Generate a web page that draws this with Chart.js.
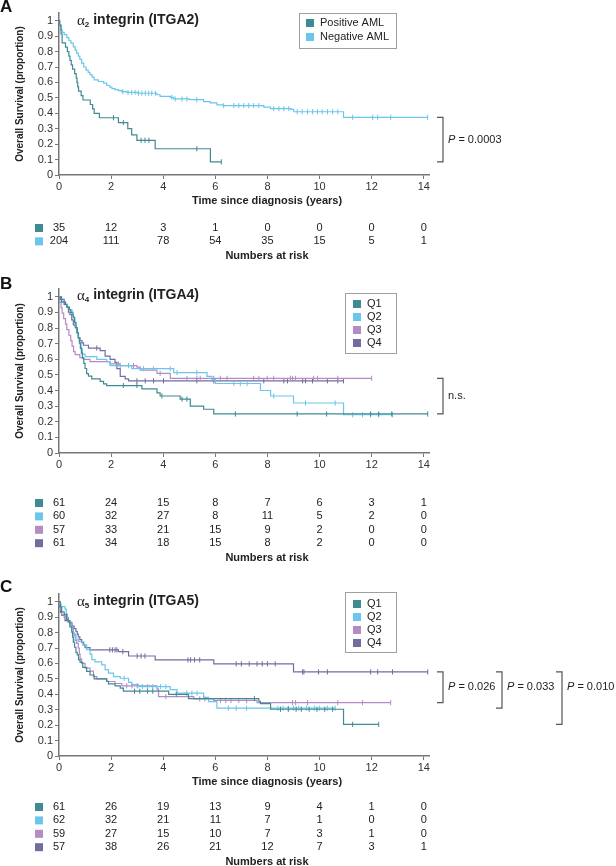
<!DOCTYPE html>
<html>
<head>
<meta charset="utf-8">
<script src="https://cdn.jsdelivr.net/npm/chart.js@4.4.0/dist/chart.umd.min.js"></script>
<style>
  body { margin: 0; background: #fff; width: 616px; height: 866px; position: relative; overflow: hidden; }
  .panel { position: absolute; left: 0; width: 616px; }
</style>
</head>
<body>
<div class="panel" style="top:0;height:266px"><canvas id="chartA"></canvas></div>
<div class="panel" style="top:266px;height:309px"><canvas id="chartB"></canvas></div>
<div class="panel" style="top:575px;height:291px"><canvas id="chartC"></canvas></div>
<script>
// ---- data ----
const riskTimes = [0, 2, 4, 6, 8, 10, 12, 14];
const quartiles = ['Q1', 'Q2', 'Q3', 'Q4'];

// A: alpha2 integrin (ITGA2)  -- [time, survival] after each event
const aNames = ['Positive AML', 'Negative AML'];
const aPosSteps = [[0.03,0.971],[0.08,0.914],[0.12,0.857],[0.25,0.829],[0.32,0.80],[0.38,0.771],[0.42,0.743],[0.47,0.714],[0.52,0.686],[0.60,0.657],[0.66,0.629],[0.69,0.60],[0.72,0.571],[0.75,0.543],[0.85,0.514],[0.92,0.486],[1.2,0.457],[1.29,0.429],[1.35,0.40],[1.55,0.371],[2.28,0.34],[2.64,0.30],[2.79,0.26],[2.99,0.225],[3.69,0.17],[5.81,0.085]];
const aPosCensor = [2.09, 2.47, 3.15, 3.3, 3.45, 5.29, 6.23];
const aNegSteps = [[0.02,0.97],[0.06,0.94],[0.12,0.925],[0.2,0.91],[0.3,0.89],[0.38,0.87],[0.46,0.855],[0.55,0.83],[0.62,0.81],[0.68,0.79],[0.74,0.77],[0.8,0.75],[0.87,0.725],[0.95,0.70],[1.04,0.68],[1.12,0.665],[1.19,0.65],[1.27,0.635],[1.35,0.617],[1.51,0.606],[1.71,0.595],[1.83,0.58],[1.95,0.57],[2.03,0.56],[2.15,0.553],[2.28,0.547],[2.41,0.54],[2.6,0.535],[3.0,0.53],[3.76,0.52],[3.88,0.51],[4.27,0.503],[4.4,0.493],[5.0,0.488],[5.55,0.475],[5.81,0.467],[6.06,0.455],[6.3,0.45],[7.86,0.44],[8.12,0.43],[8.9,0.425],[9.01,0.41],[10.92,0.374]];
const aNegCensor = [2.45,2.65,2.79,2.92,3.05,3.18,3.31,3.44,3.56,3.7,4.33,4.46,4.72,4.91,5.29,6.32,6.71,6.9,7.09,7.28,7.47,7.67,8.24,8.44,8.63,8.82,9.14,9.33,9.54,9.73,9.92,10.1,10.3,10.5,10.7,11.27,12.04,12.23,12.73,14.15];
const aPosRisk = [35, 12, 3, 1, 0, 0, 0, 0];
const aNegRisk = [204, 111, 78, 54, 35, 15, 5, 1];
const aPValue = '0.0003';

// B: alpha4 integrin (ITGA4)
const bQ1Steps = [[0.05,0.984],[0.1,0.967],[0.2,0.951],[0.3,0.934],[0.4,0.918],[0.45,0.90],[0.5,0.885],[0.55,0.869],[0.6,0.836],[0.65,0.803],[0.7,0.770],[0.74,0.738],[0.78,0.705],[0.82,0.672],[0.86,0.64],[0.9,0.607],[0.95,0.574],[1.0,0.541],[1.06,0.508],[1.13,0.492],[1.26,0.475],[1.58,0.459],[1.71,0.443],[1.83,0.432],[3.18,0.41],[3.76,0.385],[3.88,0.365],[4.65,0.345],[5.04,0.30],[5.55,0.28],[5.94,0.25]];
const bQ1Censor = [2.47, 2.99, 3.95, 4.72, 4.91, 6.77, 9.14, 10.27, 11.96, 12.27, 12.77, 14.15];
const bQ2Steps = [[0.05,0.983],[0.1,0.967],[0.2,0.95],[0.3,0.933],[0.4,0.917],[0.5,0.9],[0.55,0.867],[0.6,0.833],[0.65,0.8],[0.7,0.767],[0.75,0.733],[0.8,0.7],[0.85,0.667],[0.9,0.633],[1.0,0.617],[1.45,0.60],[1.83,0.585],[1.96,0.56],[2.79,0.54],[4.4,0.515],[5.68,0.49],[5.87,0.47],[6.0,0.445],[7.73,0.40],[8.12,0.365],[9.0,0.32],[10.92,0.245]];
const bQ2Censor = [2.35, 2.67, 3.24, 3.62, 4.27, 4.53, 5.29, 6.71, 6.96, 7.22, 8.24, 9.46, 10.6, 11.27, 11.65, 11.96, 12.27, 12.8];
const bQ3Steps = [[0.03,0.965],[0.08,0.93],[0.12,0.895],[0.18,0.86],[0.25,0.825],[0.3,0.79],[0.38,0.754],[0.45,0.72],[0.5,0.684],[0.56,0.649],[0.62,0.63],[0.8,0.61],[0.94,0.60],[1.19,0.585],[1.96,0.57],[2.35,0.56],[2.99,0.55],[3.12,0.53],[3.76,0.51],[4.27,0.478]];
const bQ3Censor = [2.28, 2.67, 2.86, 3.88, 4.91, 5.29, 5.42, 5.94, 6.19, 6.45, 7.47, 7.67, 7.99, 8.24, 8.88, 8.96, 9.08, 9.77, 9.92, 10.7, 12.0];
const bQ4Steps = [[0.1,0.984],[0.2,0.967],[0.25,0.951],[0.3,0.934],[0.36,0.902],[0.42,0.885],[0.49,0.852],[0.55,0.82],[0.62,0.803],[0.68,0.77],[0.74,0.738],[0.81,0.72],[0.88,0.705],[0.94,0.69],[1.13,0.672],[1.58,0.656],[1.77,0.62],[1.96,0.60],[2.15,0.58],[2.22,0.54],[2.35,0.49],[2.54,0.475],[2.67,0.462]];
const bQ4Censor = [1.45, 2.99, 3.31, 3.63, 4.01, 5.29, 5.94, 7.86, 8.63, 8.77, 9.35, 9.46, 9.73, 10.3, 10.7, 10.92];
const bQ1Risk = [61, 24, 15, 8, 7, 6, 3, 1];
const bQ2Risk = [60, 32, 27, 8, 11, 5, 2, 0];
const bQ3Risk = [57, 33, 21, 15, 9, 2, 0, 0];
const bQ4Risk = [61, 34, 18, 15, 8, 2, 0, 0];
const bLabel = 'n.s.';

// C: alpha5 integrin (ITGA5)
const cQ1Steps = [[0.05,0.967],[0.1,0.934],[0.2,0.918],[0.29,0.885],[0.35,0.869],[0.42,0.836],[0.49,0.803],[0.52,0.77],[0.55,0.738],[0.6,0.705],[0.65,0.672],[0.7,0.656],[0.75,0.623],[0.81,0.607],[0.91,0.574],[1.06,0.549],[1.19,0.525],[1.35,0.500],[1.83,0.484],[1.90,0.468],[2.15,0.455],[2.35,0.44],[2.47,0.42],[4.21,0.40],[4.97,0.372],[7.67,0.355],[7.73,0.34],[8.12,0.303],[10.92,0.205]];
const cQ1Censor = [2.9, 3.1, 3.4, 3.6, 4.5, 7.5, 8.5, 8.8, 9.1, 9.3, 9.6, 9.9, 10.2, 10.5, 11.27, 12.27];
const cQ2Steps = [[0.03,0.984],[0.08,0.968],[0.23,0.952],[0.28,0.92],[0.32,0.887],[0.36,0.871],[0.42,0.839],[0.49,0.806],[0.55,0.79],[0.65,0.758],[0.75,0.742],[0.91,0.72],[1.06,0.69],[1.19,0.66],[1.26,0.625],[1.38,0.61],[1.64,0.59],[1.77,0.56],[1.9,0.537],[2.09,0.515],[2.35,0.504],[2.67,0.477],[2.79,0.462],[3.05,0.45],[4.27,0.43],[4.53,0.407],[5.55,0.38],[5.74,0.353],[6.06,0.31]];
const cQ2Censor = [2.5, 3.2, 3.4, 3.6, 3.9, 4.1, 4.9, 5.1, 5.3, 6.5, 6.8, 7.2, 8.4, 8.6, 8.8, 9.0, 9.2, 9.5, 9.8, 10.0, 10.3, 10.6];
const cQ3Steps = [[0.05,0.949],[0.1,0.915],[0.2,0.898],[0.36,0.868],[0.49,0.83],[0.55,0.80],[0.58,0.78],[0.62,0.75],[0.68,0.73],[0.74,0.70],[0.78,0.66],[0.81,0.63],[0.87,0.60],[1.0,0.57],[1.19,0.55],[1.32,0.515],[1.45,0.50],[1.83,0.483],[2.15,0.47],[2.41,0.455],[3.76,0.433],[3.82,0.385],[5.17,0.37],[5.94,0.36],[7.6,0.346]];
const cQ3Censor = [2.6, 2.8, 3.0, 4.1, 5.4, 5.6, 6.2, 6.4, 6.6, 6.9, 7.2, 8.96, 9.08, 9.54, 10.7, 11.65, 12.73];
const cQ4Steps = [[0.03,0.965],[0.06,0.93],[0.1,0.912],[0.23,0.877],[0.42,0.86],[0.5,0.842],[0.58,0.825],[0.65,0.807],[0.7,0.79],[0.74,0.772],[0.8,0.754],[0.87,0.737],[0.95,0.72],[1.0,0.702],[1.19,0.688],[2.28,0.677],[2.67,0.648],[3.69,0.623],[5.94,0.597],[9.0,0.545]];
const cQ4Censor = [1.95, 2.05, 2.15, 2.22, 2.45, 3.0, 3.15, 3.3, 4.95, 5.05, 5.2, 5.4, 6.8, 7.0, 7.3, 7.6, 7.8, 8.0, 8.3, 9.35, 9.4, 9.96, 10.3, 11.96, 12.23, 12.8, 14.15];
const cQ1Risk = [61, 26, 19, 13, 9, 4, 1, 0];
const cQ2Risk = [62, 32, 21, 11, 7, 1, 0, 0];
const cQ3Risk = [59, 27, 15, 10, 7, 3, 1, 0];
const cQ4Risk = [57, 38, 26, 21, 12, 7, 3, 1];
const cPValues = ['0.026', '0.033', '0.010'];

// ---- styles ----
const FONT = "'Liberation Sans', Arial, Helvetica, sans-serif";
const TEAL = '#3f8a93', SKY = '#6cc5ea', PINK = '#b48bc4', PURPLE = '#726d9e';

function survAt(steps, t) {
  let s = 1;
  steps.forEach(([x, y]) => { if (x <= t) s = y; });
  return s;
}
function lastSurv(steps) { return steps[steps.length - 1][1]; }

function kmSets(steps, censor, color) {
  const end = censor[censor.length - 1];
  const line = [{x: 0, y: 1}].concat(steps.map(([x, y]) => ({x, y})), [{x: end, y: survAt(steps, end)}]);
  return [
    { data: line, borderColor: color, borderWidth: 1.2, pointRadius: 0, stepped: true, fill: false },
    { data: censor.map(t => ({x: t, y: survAt(steps, t)})), showLine: false,
      pointStyle: 'line', pointRotation: 90, pointRadius: 2.6,
      pointBorderColor: color, pointBorderWidth: 1, borderColor: color }
  ];
}

function makeOptions(padTop, padBottom) {
  return {
    responsive: true, maintainAspectRatio: false, animation: false,
    layout: { padding: { left: 0, right: 187, top: padTop, bottom: padBottom } },
    plugins: { legend: { display: false }, tooltip: { enabled: false } },
    scales: {
      x: {
        type: 'linear', min: 0, max: 14.2,
        afterFit: s => { s.height = 30; },
        ticks: { stepSize: 2, includeBounds: false, padding: 1, maxRotation: 0, color: '#333', font: { family: FONT, size: 11 } },
        grid: { drawOnChartArea: false, tickLength: 4, color: '#777' },
        border: { color: '#777', width: 1.5 }
      },
      y: {
        min: 0, max: 1.05,
        afterFit: s => { s.width = 59; },
        ticks: { stepSize: 0.1, includeBounds: false, padding: 2, color: '#333', font: { family: FONT, size: 11 },
                 callback: v => Math.round(v * 10) / 10 },
        grid: { drawOnChartArea: false, tickLength: 4, color: '#777' },
        border: { color: '#777', width: 1.5 },
        title: { display: true, text: 'Overall Survival (proportion)', color: '#222',
                 font: { family: FONT, size: 10, weight: 'bold' }, padding: { top: 14, bottom: 0 } }
      }
    }
  };
}

function drawPanel(chart, cfg) {
  const ctx = chart.ctx, area = chart.chartArea, xs = chart.scales.x, ys = chart.scales.y;
  ctx.save();
  ctx.textBaseline = 'middle';
  ctx.fillStyle = '#111';
  // panel letter
  ctx.textAlign = 'left';
  ctx.font = `bold 17px ${FONT}`;
  ctx.fillText(cfg.letter, 0, cfg.letterY);
  // title with greek alpha
  let x = 77;
  ctx.fillStyle = '#222';
  ctx.font = `15px 'Liberation Serif', 'DejaVu Serif', serif`;
  ctx.fillText('\u03b1', x, cfg.titleY + 1);
  x += ctx.measureText('\u03b1').width;
  ctx.font = `bold 8px ${FONT}`;
  ctx.fillText(cfg.sub, x, cfg.titleY + 5);
  x += ctx.measureText(cfg.sub).width;
  ctx.font = `bold 14px ${FONT}`;
  ctx.fillText(' integrin (' + cfg.gene + ')', x, cfg.titleY);

  // legend box
  const L = cfg.legend;
  ctx.strokeStyle = '#a0a0a0'; ctx.lineWidth = 1;
  ctx.strokeRect(L.x + 0.5, L.y + 0.5, L.w, L.h);
  ctx.font = `11px ${FONT}`;
  cfg.names.forEach((n, i) => {
    const y = L.rowY + i * L.rowH;
    ctx.fillStyle = cfg.colors[i];
    ctx.fillRect(L.sqX - 4, y - 4, 8, 8);
    ctx.fillStyle = '#222';
    ctx.fillText(n, L.textX, y);
  });

  // x axis title
  ctx.textAlign = 'center';
  ctx.font = `bold 11px ${FONT}`;
  if (cfg.xTitle) ctx.fillText('Time since diagnosis (years)', 267, area.bottom + 26);

  // numbers at risk
  const rowH = 13.4;
  ctx.font = `11px ${FONT}`;
  cfg.risk.forEach((row, i) => {
    const y = area.bottom + cfg.riskTop + i * rowH;
    ctx.fillStyle = cfg.colors[i];
    ctx.fillRect(35, y - 4, 8, 8);
    ctx.fillStyle = '#222';
    row.forEach((n, k) => ctx.fillText(String(n), xs.getPixelForValue(riskTimes[k]), y));
  });
  ctx.font = `bold 11px ${FONT}`;
  ctx.fillText('Numbers at risk', 267, area.bottom + cfg.riskTop + cfg.risk.length * rowH + 1.4);

  // brackets
  ctx.strokeStyle = '#555'; ctx.lineWidth = 1.2;
  let labelY = null;
  cfg.brackets.forEach(b => {
    const y1 = ys.getPixelForValue(b.top), y2 = ys.getPixelForValue(b.bottom);
    if (labelY === null) labelY = (y1 + y2) / 2;
    ctx.beginPath();
    ctx.moveTo(b.x - 6, y1); ctx.lineTo(b.x, y1); ctx.lineTo(b.x, y2); ctx.lineTo(b.x - 6, y2);
    ctx.stroke();
    ctx.textAlign = 'left';
    ctx.fillStyle = '#222';
    let tx = b.x + 5;
    if (b.p) {
      ctx.font = `italic 11px ${FONT}`;
      ctx.fillText('P', tx, labelY);
      tx += ctx.measureText('P').width;
      ctx.font = `11px ${FONT}`;
      ctx.fillText(' = ' + b.label, tx, labelY);
    } else {
      ctx.font = `11px ${FONT}`;
      ctx.fillText(b.label, tx, labelY);
    }
  });
  ctx.restore();
}

function panelChart(id, sets, padTop, padBottom, cfg) {
  return new Chart(document.getElementById(id), {
    type: 'line',
    data: { datasets: sets },
    options: makeOptions(padTop, padBottom),
    plugins: [{ id: 'decor' + id, afterDraw: chart => drawPanel(chart, cfg) }]
  });
}

panelChart('chartA',
  [].concat(kmSets(aPosSteps, aPosCensor, TEAL), kmSets(aNegSteps, aNegCensor, SKY)),
  13, 61, {
    letter: 'A', letterY: 7, sub: '2', gene: 'ITGA2', titleY: 20,
    legend: { x: 299, y: 13, w: 97, h: 35, rowY: 23, rowH: 14, sqX: 310, textX: 320 },
    names: aNames, colors: [TEAL, SKY], xTitle: true, riskTop: 53,
    risk: [aPosRisk, aNegRisk],
    brackets: [{ top: lastSurv(aNegSteps), bottom: lastSurv(aPosSteps), x: 443, label: aPValue, p: true }]
  });

panelChart('chartB',
  [].concat(kmSets(bQ1Steps, bQ1Censor, TEAL), kmSets(bQ2Steps, bQ2Censor, SKY),
            kmSets(bQ3Steps, bQ3Censor, PINK), kmSets(bQ4Steps, bQ4Censor, PURPLE)),
  23, 92, {
    letter: 'B', letterY: 18, sub: '4', gene: 'ITGA4', titleY: 29,
    legend: { x: 345, y: 27, w: 51, h: 60, rowY: 38, rowH: 13, sqX: 357, textX: 367 },
    names: quartiles, colors: [TEAL, SKY, PINK, PURPLE], xTitle: false, riskTop: 50,
    risk: [bQ1Risk, bQ2Risk, bQ3Risk, bQ4Risk],
    brackets: [{ top: lastSurv(bQ3Steps), bottom: lastSurv(bQ1Steps), x: 443, label: bLabel, p: false }]
  });

panelChart('chartC',
  [].concat(kmSets(cQ1Steps, cQ1Censor, TEAL), kmSets(cQ2Steps, cQ2Censor, SKY),
            kmSets(cQ3Steps, cQ3Censor, PINK), kmSets(cQ4Steps, cQ4Censor, PURPLE)),
  19, 80, {
    letter: 'C', letterY: 12, sub: '5', gene: 'ITGA5', titleY: 26,
    legend: { x: 345, y: 17, w: 51, h: 60, rowY: 29, rowH: 13, sqX: 357, textX: 367 },
    names: quartiles, colors: [TEAL, SKY, PINK, PURPLE], xTitle: true, riskTop: 51,
    risk: [cQ1Risk, cQ2Risk, cQ3Risk, cQ4Risk],
    brackets: [
      { top: lastSurv(cQ4Steps), bottom: lastSurv(cQ3Steps), x: 443, label: cPValues[0], p: true },
      { top: lastSurv(cQ4Steps), bottom: lastSurv(cQ2Steps), x: 502, label: cPValues[1], p: true },
      { top: lastSurv(cQ4Steps), bottom: lastSurv(cQ1Steps), x: 562, label: cPValues[2], p: true }
    ]
  });
</script>
</body>
</html>
